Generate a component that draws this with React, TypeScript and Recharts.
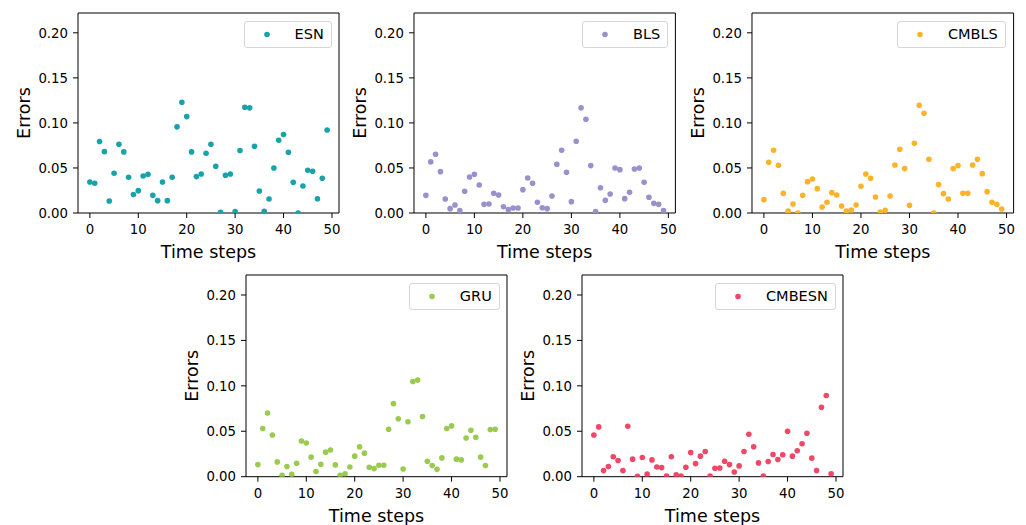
import React from 'react';
import { ScatterChart, Scatter, XAxis, YAxis, Legend, ReferenceLine } from 'recharts';

const timeSteps = [
    0, 1, 2, 3, 4, 5, 6, 7, 8, 9, 10, 11, 12, 13, 14, 15, 16, 17, 18, 19, 20, 21, 22, 23, 24,
    25, 26, 27, 28, 29, 30, 31, 32, 33, 34, 35, 36, 37, 38, 39, 40, 41, 42, 43, 44, 45, 46, 47, 48, 49,
];

const esnErrors = [
    0.0344, 0.033, 0.0793, 0.0681, 0.0133, 0.0441, 0.0763, 0.0678, 0.0396, 0.0204,
    0.0248, 0.0411, 0.043, 0.0196, 0.0137, 0.0344, 0.0137, 0.0396, 0.0956, 0.123,
    0.107, 0.0678, 0.0404, 0.0433, 0.0663, 0.0763, 0.0519, 0.0007, 0.0419, 0.0433,
    0.0015, 0.0693, 0.1174, 0.1167, 0.0741, 0.0244, 0.0019, 0.0156, 0.05, 0.0807,
    0.087, 0.0674, 0.0341, 0.0, 0.03, 0.0474, 0.0463, 0.0159, 0.0385, 0.0922,
];
const blsErrors = [
    0.0196, 0.0567, 0.0652, 0.0459, 0.0156, 0.0048, 0.0089, 0.0026, 0.0241, 0.04,
    0.043, 0.0311, 0.0096, 0.01, 0.0219, 0.02, 0.007, 0.0037, 0.0056, 0.0056,
    0.0259, 0.0389, 0.033, 0.0119, 0.0059, 0.0048, 0.0189, 0.0541, 0.0696, 0.0452,
    0.0126, 0.0796, 0.1167, 0.1041, 0.0526, 0.0015, 0.0281, 0.0141, 0.0211, 0.05,
    0.0481, 0.0159, 0.023, 0.0489, 0.05, 0.0341, 0.0174, 0.0107, 0.0096, 0.0026,
];
const cmblsErrors = [
    0.0148, 0.0563, 0.0696, 0.053, 0.0219, 0.0022, 0.01, 0.0, 0.0196, 0.0348,
    0.0378, 0.027, 0.0067, 0.0119, 0.0226, 0.02, 0.0078, 0.0022, 0.0033, 0.0089,
    0.0296, 0.0433, 0.0385, 0.0178, 0.0011, 0.003, 0.0189, 0.0533, 0.0707, 0.0493,
    0.0085, 0.0774, 0.1196, 0.1107, 0.0596, 0.0, 0.0315, 0.0215, 0.0156, 0.0493,
    0.0526, 0.0219, 0.0219, 0.0533, 0.0596, 0.0437, 0.0237, 0.0119, 0.0096, 0.0044,
];
const gruErrors = [
    0.0133, 0.053, 0.07, 0.0459, 0.0163, 0.0015, 0.0111, 0.0026, 0.0148, 0.0393,
    0.037, 0.0215, 0.0056, 0.0137, 0.027, 0.0293, 0.013, 0.0015, 0.0033, 0.0107,
    0.0226, 0.033, 0.0259, 0.0104, 0.0089, 0.0126, 0.0126, 0.0522, 0.0804, 0.0637,
    0.0085, 0.0604, 0.1048, 0.1063, 0.0663, 0.017, 0.0122, 0.0081, 0.0207, 0.053,
    0.0559, 0.0193, 0.0185, 0.0426, 0.0511, 0.0433, 0.0215, 0.0122, 0.0519, 0.0522,
];
const cmbesnErrors = [
    0.0459, 0.0548, 0.0067, 0.0111, 0.0219, 0.0178, 0.0067, 0.0556, 0.0193, 0.0004,
    0.0211, 0.003, 0.0185, 0.0107, 0.01, 0.0007, 0.0219, 0.0022, 0.0007, 0.0104,
    0.0267, 0.0144, 0.0226, 0.0278, 0.0007, 0.0093, 0.0096, 0.017, 0.0133, 0.0052,
    0.0119, 0.0278, 0.0467, 0.033, 0.0152, 0.0007, 0.0167, 0.0244, 0.0189, 0.0241,
    0.05, 0.0226, 0.0285, 0.0363, 0.0478, 0.0204, 0.0067, 0.0763, 0.0893, 0.0033,
];

const xTicks = [0, 10, 20, 30, 40, 50];
const yTicks = [0, 0.05, 0.1, 0.15, 0.2];

const FONT = '"DejaVu Sans", sans-serif';
const Y_AXIS_W = 72;
const X_AXIS_H = 55;
const PAD_TOP = 10;
const PAD_RIGHT = 10;
const X_DOMAIN: [number, number] = [-2.45, 51.45];
const Y_DOMAIN: [number, number] = [0, 0.222];

type PanelProps = {
    name: string,
    color: string,
    values: number[],
    left: number,
    top: number,
    plotW: number,
    plotH: number,
};

const Panel = (props: PanelProps) => {
    const { name, color, values, left, top, plotW, plotH } = props;
    const data = timeSteps.map((t, i) => ({ t, err: values[i] }));
    const tickStyle = { fill: '#000', fontSize: 13.3, fontFamily: FONT };

    const legendContent = () => (
        <div style={{
            display: 'flex', alignItems: 'center', height: 25,
            border: '1px solid #d6d6d6', borderRadius: 3, background: 'rgba(255,255,255,0.8)',
            paddingRight: 7, fontFamily: FONT, fontSize: 14.5, color: '#000', whiteSpace: 'nowrap',
        }}>
            <svg width={50} height={25}><circle cx={22} cy={12.5} r={2.8} fill={color} /></svg>
            <span>{name}</span>
        </div>
    );

    return (
        <div style={{ position: 'absolute', left: left - Y_AXIS_W, top: top - PAD_TOP }}>
            <ScatterChart
                width={Y_AXIS_W + plotW + PAD_RIGHT}
                height={PAD_TOP + plotH + X_AXIS_H}
                margin={{ top: PAD_TOP, right: PAD_RIGHT, bottom: 0, left: 0 }}
            >
                <XAxis
                    dataKey="t" type="number" domain={X_DOMAIN} ticks={xTicks}
                    allowDataOverflow interval={0} height={X_AXIS_H} tickSize={5} tickMargin={7}
                    stroke="#000" tick={tickStyle}
                    label={{ value: 'Time steps', position: 'insideBottom', offset: 10, fill: '#000', fontSize: 17.5, fontFamily: FONT }}
                />
                <YAxis
                    dataKey="err" type="number" domain={Y_DOMAIN} ticks={yTicks}
                    allowDataOverflow interval={0} width={Y_AXIS_W} tickSize={5} tickMargin={5}
                    stroke="#000" tick={tickStyle} tickFormatter={(v: number) => v.toFixed(2)}
                    label={{ value: 'Errors', angle: -90, position: 'insideLeft', offset: 17.5, fill: '#000', fontSize: 17.5, fontFamily: FONT, style: { textAnchor: 'middle' } }}
                />
                {/* top and right spines */}
                <ReferenceLine y={Y_DOMAIN[1]} stroke="#000" strokeWidth={1} />
                <ReferenceLine x={X_DOMAIN[1]} stroke="#000" strokeWidth={1} />
                <Legend
                    layout="vertical" align="center" verticalAlign="middle" content={legendContent}
                    wrapperStyle={{ top: PAD_TOP + 7.5, right: PAD_RIGHT + 7.5, left: 'auto', width: 'auto', height: 'auto' }}
                />
                <Scatter
                    name={name} data={data} fill={color} isAnimationActive={false}
                    shape={(p: any) => <circle cx={p.cx} cy={p.cy} r={2.8} fill={color} />}
                />
            </ScatterChart>
        </div>
    );
};

const App = () => {
    return (
        <div style={{ position: 'absolute', left: 0, top: 0, width: 1026, height: 525, background: '#fff' }}>
            <Panel name="ESN" color="#17a3a9" values={esnErrors} left={78.3} top={13.3} plotW={261} plotH={200} />
            <Panel name="BLS" color="#9b8fcc" values={blsErrors} left={414.3} top={13.3} plotW={261.4} plotH={200} />
            <Panel name="CMBLS" color="#fbb329" values={cmblsErrors} left={751.7} top={13.3} plotW={261.6} plotH={200} />
            <Panel name="GRU" color="#9acb4f" values={gruErrors} left={246.3} top={275} plotW={261} plotH={201.7} />
            <Panel name="CMBESN" color="#ef4766" values={cmbesnErrors} left={582.3} top={275} plotW={261} plotH={201.7} />
        </div>
    );
};

export default App;
